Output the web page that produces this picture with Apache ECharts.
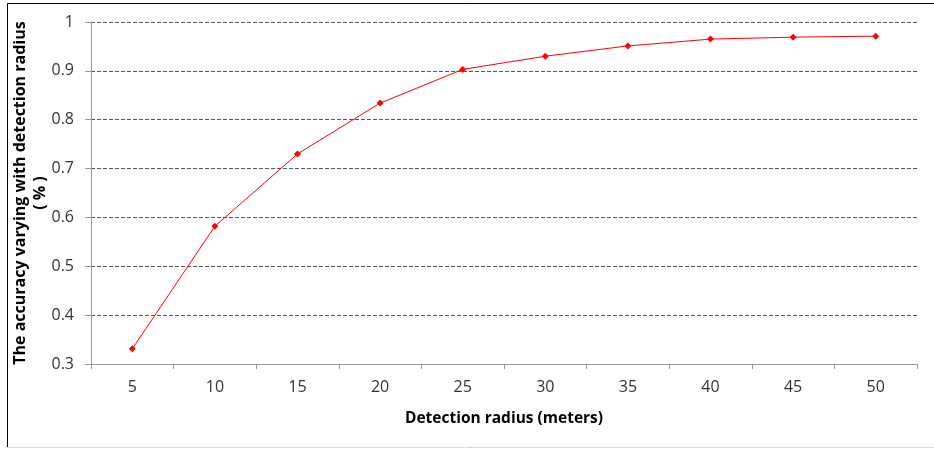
<!DOCTYPE html>
<html>
<head>
<meta charset="utf-8">
<script src="https://cdn.jsdelivr.net/npm/echarts@6/dist/echarts.min.js"></script>
<style>
  html, body { margin: 0; padding: 0; background: #fff; }
  #chart { width: 934px; height: 450px; }
</style>
</head>
<body>
<div id="chart"></div>
<script>
  const radius = ['5', '10', '15', '20', '25', '30', '35', '40', '45', '50'];
  const accuracy = [0.331, 0.582, 0.730, 0.834, 0.903, 0.930, 0.951, 0.965, 0.969, 0.971];

  const myChart = echarts.init(document.getElementById('chart'));

  const labelFont = { fontFamily: 'Open Sans', fontSize: 16, color: '#333' };

  const option = {
    animation: false,
    graphic: [
      // cuadro exterior de la figura
      {
        type: 'rect',
        shape: { x: 7.5, y: 3.5, width: 940, height: 444 },
        style: { fill: 'none', stroke: '#000', lineWidth: 1 },
        silent: true
      },
      {
        type: 'line',
        shape: { x1: 7, y1: 447.5, x2: 934, y2: 447.5 },
        style: { stroke: '#ddd', lineWidth: 1 },
        silent: true
      }
    ],
    grid: { left: 91, right: 17, top: 22, bottom: 86, outerBoundsMode: 'none', containLabel: false },
    xAxis: {
      type: 'category',
      data: radius,
      boundaryGap: true,
      name: 'Detection radius (meters)',
      nameLocation: 'middle',
      nameGap: 47,
      nameMoveOverlap: false,
      nameTextStyle: { fontFamily: 'Open Sans', fontSize: 15.5, fontWeight: 'bold', color: '#000' },
      axisLine: { lineStyle: { color: '#999', width: 1 } },
      axisTick: { show: true, length: 5, lineStyle: { color: '#999' } },
      axisLabel: Object.assign({ margin: 15 }, labelFont)
    },
    yAxis: {
      type: 'value',
      min: 0.3,
      max: 1,
      interval: 0.1,
      name: 'The accuracy varying with detection radius\n( % )',
      nameLocation: 'middle',
      nameGap: 41,
      nameMoveOverlap: false,
      nameTextStyle: { fontFamily: 'Open Sans', fontSize: 16, fontWeight: 'bold', color: '#000', lineHeight: 20 },
      axisLine: { show: true, lineStyle: { color: '#999', width: 1 } },
      axisTick: { show: true, length: 6, lineStyle: { color: '#999' } },
      axisLabel: Object.assign({ margin: 17 }, labelFont),
      splitLine: { lineStyle: { color: '#555', type: [4, 2], width: 1 } }
    },
    series: [
      {
        type: 'line',
        name: 'Accuracy',
        data: accuracy,
        symbol: 'diamond',
        symbolSize: 7,
        itemStyle: { color: '#ff0000' },
        lineStyle: { color: '#ff0000', width: 1 }
      }
    ]
  };

  myChart.setOption(option);
</script>
</body>
</html>
